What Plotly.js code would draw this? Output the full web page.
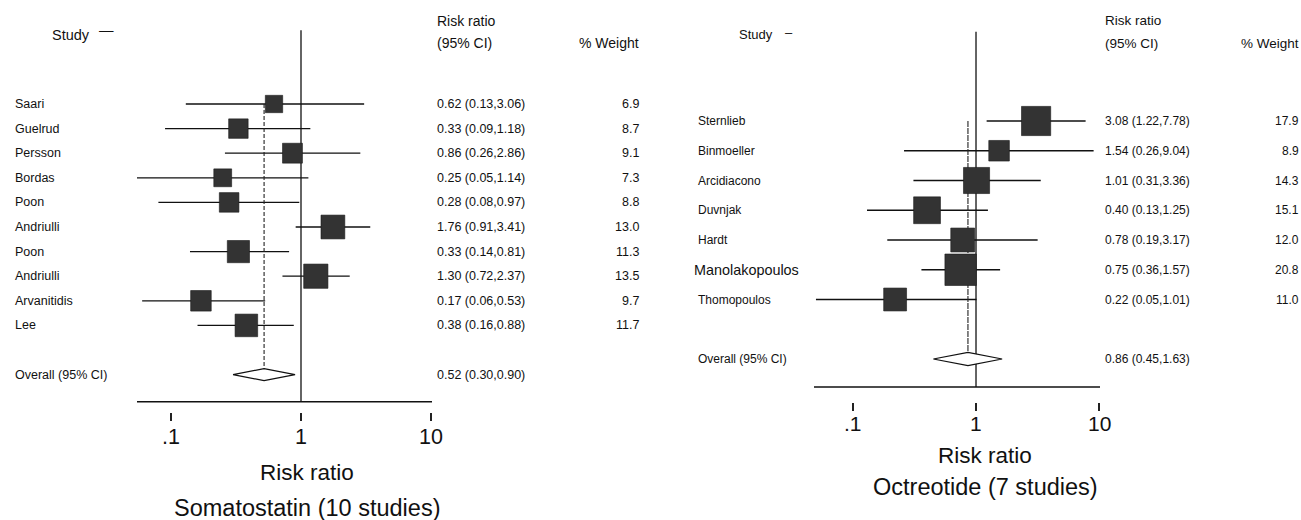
<!DOCTYPE html>
<html><head><meta charset="utf-8">
<script src="https://cdn.plot.ly/plotly-3.0.1.min.js"></script>
<style>html,body{margin:0;padding:0;background:#fff}#chart{width:1301px;height:520px}</style>
</head><body><div id="chart"></div>
<script>
// ---- data ----
const somaStudies = ["Saari","Guelrud","Persson","Bordas","Poon","Andriulli","Poon","Andriulli","Arvanitidis","Lee"];
const somaRR = [0.62,0.33,0.86,0.25,0.28,1.76,0.33,1.30,0.17,0.38];
const somaLo = [0.13,0.09,0.26,0.05,0.08,0.91,0.14,0.72,0.06,0.16];
const somaHi = [3.06,1.18,2.86,1.14,0.97,3.41,0.81,2.37,0.53,0.88];
const somaWeight = [6.9,8.7,9.1,7.3,8.8,13.0,11.3,13.5,9.7,11.7];
const somaOverall = [0.52,0.30,0.90];

const octStudies = ["Sternlieb","Binmoeller","Arcidiacono","Duvnjak","Hardt","Manolakopoulos","Thomopoulos"];
const octRR = [3.08,1.54,1.01,0.40,0.78,0.75,0.22];
const octLo = [1.22,0.26,0.31,0.13,0.19,0.36,0.05];
const octHi = [7.78,9.04,3.36,1.25,3.17,1.57,1.01];
const octWeight = [17.9,8.9,14.3,15.1,12.0,20.8,11.0];
const octOverall = [0.86,0.45,1.63];

const tickVals = [0.1,1,10];
const tickText = [".1","1","10"];
const overallLabel = "Overall (95% CI)";
const axisTitle = "Risk ratio";
const panelTitles = ["Somatostatin (10 studies)","Octreotide (7 studies)"];

// ---- layout / style ----
const W = 1301, H = 520;
const FONT = "Liberation Sans, Arial, Helvetica, sans-serif";
const panels = [
  {studies:somaStudies, rr:somaRR, lo:somaLo, hi:somaHi, w:somaWeight, ov:somaOverall, title:panelTitles[0],
   xa:'x', ya:'y', xk:'xaxis', yk:'yaxis', dom:[137,432], range:[-1.2615,1.0077],
   row0:104, step:24.6, axisPx:401.7, tickPx:412, tickLblPx:437, boxK:6.6, dh:0.245, dash:"4px,2px",
   nameX:12.7, nameSize:12.5, bigIdx:-1, ciX:435, wtX:640.5, bodySize:12.5, hdrSize:14,
   studyX:50, studyPx:35, studySize:14.5, dashX:97, dashPx:30, dashText:"—", hdr1Px:21, hdr2Px:43,
   titleCx:307, axTitlePx:472, titlePx:508, tickSize:21.5, axTitleSize:22.5, titleSize:23.5},
  {studies:octStudies, rr:octRR, lo:octLo, hi:octHi, w:octWeight, ov:octOverall, title:panelTitles[1],
   xa:'x2', ya:'y2', xk:'xaxis2', yk:'yaxis2', dom:[814,1100], range:[-1.317,1.008],
   row0:121, step:29.75, axisPx:387, tickPx:402, tickLblPx:423, boxK:6.9, dh:0.22, dash:"6px,1px",
   nameX:696, nameSize:12, bigIdx:5, ciX:1103, wtX:1300.5, bodySize:12, hdrSize:13.5,
   studyX:737, studyPx:35, studySize:13, dashX:783, dashPx:32, dashText:"–", hdr1Px:21, hdr2Px:43,
   titleCx:985, axTitlePx:455, titlePx:487, tickSize:21, axTitleSize:22.5, titleSize:23.5}
];

const traces = [], annotations = [];
const layout = {
  width: W, height: H, margin:{l:0,r:0,t:0,b:0,pad:0},
  paper_bgcolor:'#fff', plot_bgcolor:'rgba(0,0,0,0)', showlegend:false,
  font:{family:FONT, color:'#111'}, annotations: annotations
};

function py(px){ return 1 - px/H; }

panels.forEach(p => {
  const n = p.studies.length;
  const ovRow = n + 1;
  const axisRow = (p.axisPx - p.row0)/p.step;
  const topRow = -3;
  layout[p.xk] = {
    type:'log', domain:[p.dom[0]/W, p.dom[1]/W], range:p.range, anchor:'free', position:py(p.tickPx),
    showline:false, showgrid:false, zeroline:false, ticks:'outside', ticklen:8, tickwidth:1.2, tickcolor:'#222',
    tickmode:'array', tickvals:tickVals, showticklabels:false, fixedrange:true
  };
  layout[p.yk] = {
    domain:[0,1], range:[(H - p.row0)/p.step, -p.row0/p.step], visible:false, fixedrange:true,
    anchor:'free', position:0
  };
  // CI lines
  const cx = [], cy = [];
  for (let i=0;i<n;i++){ cx.push(p.lo[i], p.hi[i], null); cy.push(i, i, null); }
  traces.push({type:'scatter', mode:'lines', x:cx, y:cy, xaxis:p.xa, yaxis:p.ya,
    line:{color:'#111', width:1.3}, hoverinfo:'skip'});
  // null line at 1
  traces.push({type:'scatter', mode:'lines', x:[1,1], y:[topRow, axisRow], xaxis:p.xa, yaxis:p.ya,
    line:{color:'#111', width:1.3}, hoverinfo:'skip', cliponaxis:false});
  // overall dashed line
  traces.push({type:'scatter', mode:'lines', x:[p.ov[0],p.ov[0]], y:[0, ovRow], xaxis:p.xa, yaxis:p.ya,
    line:{color:'#222', width:1.1, dash:p.dash}, hoverinfo:'skip'});
  // horizontal axis line
  traces.push({type:'scatter', mode:'lines', x:[Math.pow(10,p.range[0]), Math.pow(10,p.range[1])], y:[axisRow, axisRow],
    xaxis:p.xa, yaxis:p.ya, line:{color:'#111', width:1.4}, hoverinfo:'skip', cliponaxis:false});
  // squares
  traces.push({type:'scatter', mode:'markers', x:p.rr, y:p.studies.map((s,i)=>i), xaxis:p.xa, yaxis:p.ya,
    marker:{symbol:'square', size:p.w.map(v=>p.boxK*Math.sqrt(v)), color:'#333', opacity:1,
      line:{width:0.6,color:'#1a1a1a'}},
    hoverinfo:'skip'});
  // diamond
  traces.push({type:'scatter', mode:'lines', x:[p.ov[1], p.ov[0], p.ov[2], p.ov[0], p.ov[1]],
    y:[ovRow, ovRow - p.dh, ovRow, ovRow + p.dh, ovRow], xaxis:p.xa, yaxis:p.ya, fill:'toself',
    fillcolor:'#fff', line:{color:'#111', width:1.2}, hoverinfo:'skip'});

  // tick labels (annotation x on log axis is log10 of the value)
  tickVals.forEach((v,k) => {
    annotations.push({xref:p.xa, yref:'paper', x:Math.log10(v), y:py(p.tickLblPx), xanchor:'center', yanchor:'middle',
      text:tickText[k], showarrow:false, font:{size:p.tickSize, family:FONT, color:'#111'}});
  });

  // text: study names, CI, weights
  const yref = p.ya;
  p.studies.forEach((s,i) => {
    const big = (i === p.bigIdx);
    annotations.push({xref:'paper', yref:yref, x:(p.nameX - (big?4:0))/W, y:i, xanchor:'left', yanchor:'middle',
      text:s, showarrow:false, font:{size: big?14.4:p.nameSize, family:FONT, color:'#111'}});
    annotations.push({xref:'paper', yref:yref, x:p.ciX/W, y:i, xanchor:'left', yanchor:'middle',
      text:`${p.rr[i].toFixed(2)} (${p.lo[i].toFixed(2)},${p.hi[i].toFixed(2)})`, showarrow:false,
      font:{size:p.bodySize, family:FONT, color:'#111'}});
    annotations.push({xref:'paper', yref:yref, x:p.wtX/W, y:i, xanchor:'right', yanchor:'middle',
      text:p.w[i].toFixed(1), showarrow:false, font:{size:p.bodySize, family:FONT, color:'#111'}});
  });
  annotations.push({xref:'paper', yref:yref, x:p.nameX/W, y:ovRow, xanchor:'left', yanchor:'middle',
    text:overallLabel, showarrow:false, font:{size:p.nameSize, family:FONT, color:'#111'}});
  annotations.push({xref:'paper', yref:yref, x:p.ciX/W, y:ovRow, xanchor:'left', yanchor:'middle',
    text:`${p.ov[0].toFixed(2)} (${p.ov[1].toFixed(2)},${p.ov[2].toFixed(2)})`, showarrow:false,
    font:{size:p.bodySize, family:FONT, color:'#111'}});
  // headers
  annotations.push({xref:'paper', yref:'paper', x:p.studyX/W, y:py(p.studyPx), xanchor:'left', yanchor:'middle',
    text:"Study", showarrow:false, font:{size:p.studySize, family:FONT, color:'#111'}});
  annotations.push({xref:'paper', yref:'paper', x:p.dashX/W, y:py(p.dashPx), xanchor:'left', yanchor:'middle',
    text:p.dashText, showarrow:false, font:{size:p.studySize, family:FONT, color:'#111'}});
  annotations.push({xref:'paper', yref:'paper', x:p.ciX/W, y:py(p.hdr1Px), xanchor:'left', yanchor:'middle',
    text:"Risk ratio", showarrow:false, font:{size:p.hdrSize, family:FONT, color:'#111'}});
  annotations.push({xref:'paper', yref:'paper', x:p.ciX/W, y:py(p.hdr2Px), xanchor:'left', yanchor:'middle',
    text:"(95% CI)", showarrow:false, font:{size:p.hdrSize, family:FONT, color:'#111'}});
  annotations.push({xref:'paper', yref:'paper', x:p.wtX/W, y:py(p.hdr2Px), xanchor:'right', yanchor:'middle',
    text:"% Weight", showarrow:false, font:{size:p.hdrSize, family:FONT, color:'#111'}});
  // axis title & panel title
  annotations.push({xref:'paper', yref:'paper', x:p.titleCx/W, y:py(p.axTitlePx), xanchor:'center', yanchor:'middle',
    text:axisTitle, showarrow:false, font:{size:p.axTitleSize, family:FONT, color:'#111'}});
  annotations.push({xref:'paper', yref:'paper', x:p.titleCx/W, y:py(p.titlePx), xanchor:'center', yanchor:'middle',
    text:p.title, showarrow:false, font:{size:p.titleSize, family:FONT, color:'#111'}});
});

Plotly.newPlot('chart', traces, layout, {staticPlot:true, displayModeBar:false});
</script>
</body></html>
